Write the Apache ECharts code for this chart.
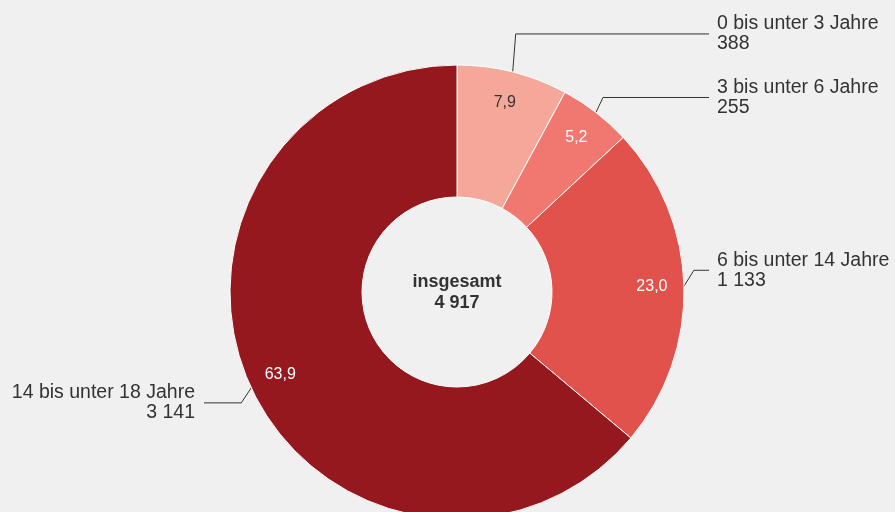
<!DOCTYPE html>
<html>
<head>
<meta charset="utf-8">
<script src="https://cdn.jsdelivr.net/npm/echarts@6/dist/echarts.min.js"></script>
<style>
  html, body { margin: 0; padding: 0; background: #f0f0f0; }
  #chart { width: 895px; height: 512px; }
</style>
</head>
<body>
<div id="chart"></div>
<script>
// Kinder und Jugendliche nach Alter
const categories = ['0 bis unter 3 Jahre', '3 bis unter 6 Jahre', '6 bis unter 14 Jahre', '14 bis unter 18 Jahre'];
const values = [388, 255, 1133, 3141];
const totalLabel = 'insgesamt';

const colors = ['#f5a899', '#f07871', '#e0524b', '#94181d'];
const pctColors = ['#333333', '#ffffff', '#ffffff', '#ffffff'];

const FONT = '"Liberation Sans", Arial, sans-serif';
const CX = 457, CY = 292;
// knick der beschriftungslinie relativ zum segmentrand
const labelBend = [[3, -38], [7, -15], [10, -16], [-10, 15]];

const total = values.reduce((s, v) => s + v, 0);
const fmt = (v) => String(v).replace(/\B(?=(\d{3})+(?!\d))/g, ' ');
const pct = (v) => (v / total * 100).toFixed(1).replace('.', ',');

const chart = echarts.init(document.getElementById('chart'));

chart.setOption({
  backgroundColor: '#f0f0f0',
  animation: false,
  graphic: [{
    type: 'text',
    x: CX,
    y: CY + 1,
    style: {
      text: totalLabel + '\n' + fmt(total),
      align: 'center',
      verticalAlign: 'middle',
      font: 'bold 18px ' + FONT,
      lineHeight: 21,
      fill: '#333333'
    }
  }],
  series: [
    {
      type: 'pie',
      center: [CX, CY],
      radius: [95, 227],
      startAngle: 90,
      clockwise: true,
      silent: true,
      emphasis: { disabled: true },
      itemStyle: { borderColor: '#ffffff', borderWidth: 1 },
      data: categories.map((c, i) => ({
        name: c,
        value: values[i],
        itemStyle: { color: colors[i] }
      })),
      label: {
        show: true,
        position: 'outside',
        formatter: (p) => p.name + '\n' + fmt(p.value),
        fontFamily: FONT,
        fontSize: 19.5,
        lineHeight: 20,
        color: '#333333',
        overflow: 'none',
        width: 200
      },
      labelLine: {
        show: true,
        length: 15,
        length2: 15,
        lineStyle: { color: '#333333', width: 1 }
      },
      labelLayout: function (p) {
        const i = p.dataIndex;
        const p0 = p.labelLinePoints[0];
        const p1 = [p0[0] + labelBend[i][0], p0[1] + labelBend[i][1]];
        const right = p0[0] > CX;
        const p2 = [right ? CX + 252 : CX - 253, p1[1]];
        return {
          x: p2[0] + (right ? 8 : -9),
          y: p1[1],
          align: right ? 'left' : 'right',
          verticalAlign: 'middle',
          labelLinePoints: [p0, p1, p2]
        };
      }
    },
    {
      // nur fuer die prozentwerte
      type: 'pie',
      center: [CX, CY],
      radius: [157, 227],
      startAngle: 90,
      clockwise: true,
      silent: true,
      emphasis: { disabled: true },
      itemStyle: { color: 'transparent', borderWidth: 0 },
      data: categories.map((c, i) => ({
        name: c,
        value: values[i],
        label: { color: pctColors[i] }
      })),
      label: {
        show: true,
        position: 'inside',
        formatter: (p) => pct(p.value),
        fontFamily: FONT,
        fontSize: 16
      },
      labelLine: { show: false }
    }
  ]
});
</script>
</body>
</html>
